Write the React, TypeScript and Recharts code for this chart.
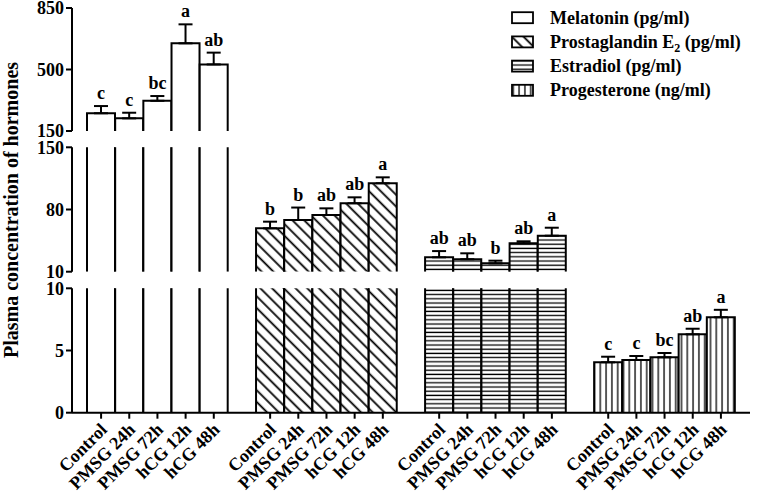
import React from 'react'
import { ComposedChart, Bar, Line, XAxis, YAxis, ErrorBar, LabelList } from 'recharts'

const treatments = ['Control', 'PMSG 24h', 'PMSG 72h', 'hCG 12h', 'hCG 48h']

const melatonin = [251, 222, 322, 649, 529]
const melatoninSem = [41, 32, 27, 108, 67]
const melatoninLetters = ['c', 'c', 'bc', 'a', 'ab']

const pge2 = [58.8, 68.2, 73.8, 87, 109.5]
const pge2Sem = [7.5, 14, 7.5, 6.7, 6.7]
const pge2Letters = ['b', 'b', 'ab', 'ab', 'a']

const estradiol = [26.2, 24, 19.4, 42, 50.5]
const estradiolSem = [7, 6.7, 3, 2.2, 9]
const estradiolLetters = ['ab', 'ab', 'b', 'ab', 'a']

const progesterone = [4.05, 4.24, 4.45, 6.3, 7.67]
const progesteroneSem = [0.45, 0.32, 0.35, 0.45, 0.6]
const progesteroneLetters = ['c', 'c', 'bc', 'ab', 'a']

// broken y axis: top, middle, bottom pieces
const topTicks = [150, 500, 850]
const midTicks = [10, 80, 150]
const lowTicks = [0, 5, 10]

const FONT = 'Liberation Serif'
const fills = ['#fff', 'url(#hatchDiag)', 'url(#hatchHoriz)', 'url(#hatchVert)']

const groupValues = [melatonin, pge2, estradiol, progesterone]
const groupSem = [melatoninSem, pge2Sem, estradiolSem, progesteroneSem]
const groupLetters = [melatoninLetters, pge2Letters, estradiolLetters, progesteroneLetters]

type Row = { name: string; group: number; value: number | null; sem: number; letter: string }

const rows: Row[] = []
groupValues.forEach((vals, g) => {
  if (g > 0) rows.push({ name: '', group: -1, value: null, sem: 0, letter: '' })
  vals.forEach((v, i) =>
    rows.push({ name: treatments[i], group: g, value: v, sem: groupSem[g][i], letter: groupLetters[g][i] })
  )
})

function segmentData(lo: number, hi: number) {
  return rows.map((r) => {
    const shows = r.value != null && r.value > lo
    const topHere = shows && (r.value as number) <= hi
    return {
      ...r,
      bar: shows ? r.value : null,
      err: topHere ? [0, r.sem] : undefined,
      top: topHere ? (r.value as number) + r.sem : undefined,
      mark: topHere ? r.letter : undefined,
    }
  })
}

function HatchBar(props: any) {
  const { x, y, width, height, payload } = props
  if (height == null || !width || !payload || payload.group < 0) return null
  const bottom = y + height
  return (
    <g>
      <rect x={x} y={y} width={width} height={height} fill={fills[payload.group]} />
      <path
        d={`M${x},${bottom}V${y}H${x + width}V${bottom}`}
        fill="none"
        stroke="#000"
        strokeWidth={2}
      />
    </g>
  )
}

function LetterLabel(props: any) {
  const { x, y, value } = props
  if (!value || x == null || y == null) return null
  return (
    <text x={x} y={y - 7} textAnchor="middle" style={{ fontFamily: FONT }} fontWeight="bold" fontSize={18} fill="#000">
      {value}
    </text>
  )
}

function CategoryTick(props: any) {
  const { x, y, payload } = props
  if (!payload || !payload.value) return null
  return (
    <g transform={`translate(${x},${y})`}>
      <line x1={0} y1={-8} x2={0} y2={-2} stroke="#000" strokeWidth={2} />
      <text
        x={7}
        y={10}
        textAnchor="end"
        transform="rotate(-45 7 10)"
        style={{ fontFamily: FONT }}
        fontWeight="bold"
        fontSize={18}
        fill="#000"
      >
        {payload.value}
      </text>
    </g>
  )
}

interface SegmentProps {
  lo: number
  hi: number
  ticks: number[]
  height: number
  top: number
  bottom: number
  showX?: boolean
}

function Segment({ lo, hi, ticks, height, top, bottom, showX = false }: SegmentProps) {
  const data = segmentData(lo, hi)
  return (
    <ComposedChart
      width={765}
      height={height}
      data={data}
      margin={{ top, right: 15, bottom, left: 12 }}
      barCategoryGap={0}
      barGap={0}
    >
      <XAxis
        dataKey="name"
        hide={!showX}
        padding={{ left: 15, right: 15 }}
        axisLine={{ stroke: '#000', strokeWidth: 2 }}
        tickLine={false}
        tick={<CategoryTick />}
        interval={0}
        height={showX ? 83.3 : 0}
      />
      <YAxis
        type="number"
        domain={[lo, hi]}
        ticks={ticks}
        allowDataOverflow
        interval={0}
        width={60}
        tickSize={6}
        axisLine={{ stroke: '#000', strokeWidth: 2 }}
        tickLine={{ stroke: '#000', strokeWidth: 2 }}
        tick={{ fill: '#000', fontSize: 18, fontWeight: 'bold', fontFamily: FONT }}
      />
      <YAxis yAxisId="lab" type="number" domain={[lo, hi]} hide />
      <Bar dataKey="bar" shape={HatchBar} isAnimationActive={false}>
        <ErrorBar dataKey="err" width={7} stroke="#000" strokeWidth={2} isAnimationActive={false} />
      </Bar>
      <Line
        yAxisId="lab"
        dataKey="top"
        stroke="none"
        dot={false}
        activeDot={false}
        isAnimationActive={false}
      >
        <LabelList dataKey="mark" content={LetterLabel} />
      </Line>
    </ComposedChart>
  )
}

const legendItems = [
  { label: 'Melatonin (pg/ml)', fill: fills[0] },
  { label: 'Prostaglandin E', sub: '2', rest: ' (pg/ml)', fill: fills[1] },
  { label: 'Estradiol (pg/ml)', fill: fills[2] },
  { label: 'Progesterone (ng/ml)', fill: fills[3] },
]

export default function App() {
  return (
    <div
      style={{
        position: 'absolute',
        left: 0,
        top: 0,
        width: 765,
        height: 496,
        background: '#fff',
        fontFamily: FONT,
      }}
    >
      <div style={{ position: 'absolute', left: 0, top: 0 }}>
        <Segment lo={150} hi={850} ticks={topTicks} height={142} top={8} bottom={11} />
      </div>
      <div style={{ position: 'absolute', left: 0, top: 133 }}>
        <Segment lo={10} hi={150} ticks={midTicks} height={152} top={14.3} bottom={13.3} />
      </div>
      <div style={{ position: 'absolute', left: 0, top: 280 }}>
        <Segment lo={0} hi={10} ticks={lowTicks} height={216} top={8.3} bottom={0} showX />
      </div>
      <svg
        width={765}
        height={496}
        style={{ position: 'absolute', left: 0, top: 0, pointerEvents: 'none' }}
      >
        <defs>
          <pattern id="hatchDiag" width={8.3} height={8.3} patternUnits="userSpaceOnUse" patternTransform="rotate(-45)">
            <rect width={8.3} height={8.3} fill="#fff" />
            <line x1={4} y1={0} x2={4} y2={8.3} stroke="#000" strokeWidth={1.8} />
          </pattern>
          <pattern id="hatchHoriz" width={10} height={4.2} patternUnits="userSpaceOnUse">
            <rect width={10} height={4.2} fill="#fff" />
            <line x1={0} y1={2} x2={10} y2={2} stroke="#000" strokeWidth={1.3} />
          </pattern>
          <pattern id="hatchVert" width={5.8} height={10} patternUnits="userSpaceOnUse">
            <rect width={5.8} height={10} fill="#fff" />
            <line x1={2.9} y1={0} x2={2.9} y2={10} stroke="#000" strokeWidth={1.3} />
          </pattern>
        </defs>
        <text
          x={18}
          y={210}
          transform="rotate(-90 18 210)"
          textAnchor="middle"
          style={{ fontFamily: FONT }}
          fontWeight="bold"
          fontSize={20}
          fill="#000"
        >
          Plasma concentration of hormones
        </text>
        {legendItems.map((item, i) => {
          const cy = 17.7 + i * 24.2
          return (
            <g key={item.label}>
              <rect x={512} y={cy - 5.5} width={21} height={11} fill={item.fill} stroke="#000" strokeWidth={1.8} />
              <text x={550} y={cy + 6} style={{ fontFamily: FONT }} fontWeight="bold" fontSize={18} fill="#000">
                {item.label}
                {item.sub && (
                  <tspan dy={4} fontSize={12}>
                    {item.sub}
                  </tspan>
                )}
                {item.rest && <tspan dy={-4}>{item.rest}</tspan>}
              </text>
            </g>
          )
        })}
      </svg>
    </div>
  )
}
